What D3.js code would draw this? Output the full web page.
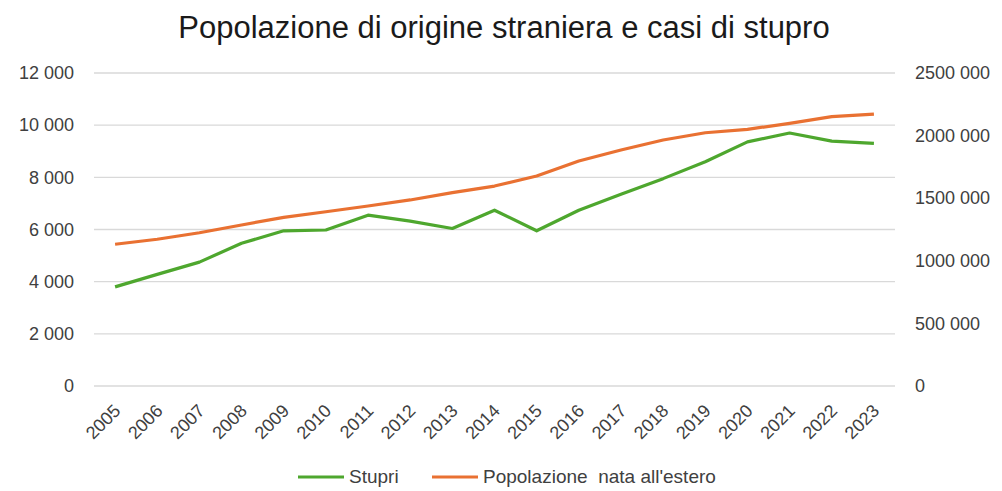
<!DOCTYPE html>
<html><head><meta charset="utf-8">
<script src="https://cdn.jsdelivr.net/npm/d3@7"></script>
<style>body{margin:0;background:#fff}svg{display:block}text{font-family:"Liberation Sans",Arial,sans-serif;fill:#404040}</style>
</head><body><svg id="c" width="1002" height="491"></svg>
<script>
const years = ["2005","2006","2007","2008","2009","2010","2011","2012","2013","2014","2015","2016","2017","2018","2019","2020","2021","2022","2023"];
const stupri = [3800,4280,4750,5470,5950,5980,6550,6320,6040,6740,5950,6740,7350,7950,8600,9360,9700,9390,9300];
const popolazione = [1132000,1172000,1224000,1286000,1347000,1392000,1438000,1486000,1544000,1597000,1677000,1797000,1885000,1965000,2023000,2050000,2098000,2151000,2172000];
const leftTicks = [0,2000,4000,6000,8000,10000,12000];
const rightTicks = [0,500000,1000000,1500000,2000000,2500000];
const title = "Popolazione di origine straniera e casi di stupro";
const seriesNames = ["Stupri","Popolazione  nata all'estero"];
const colors = ["#4ea72e","#e97132"];

const svg = d3.select("#c");
const L = 94, R = 895, T = 73, B = 386;
const x = d3.scalePoint().domain(years).range([L, R]).padding(0.5);
const yL = d3.scaleLinear().domain([0,12000]).range([B, T]);
const yR = d3.scaleLinear().domain([0,2500000]).range([B, T]);
const fmt = v => v >= 1000 ? (Math.floor(v/1000)) + " " + String(v%1000).padStart(3,"0") : String(v);
const FS = "18px";

svg.append("text").attr("x", 504).attr("y", 38).attr("text-anchor","middle")
  .style("font-size","31px").style("fill","#1a1a1a").text(title);

// gridlines
svg.append("g").selectAll("line").data(leftTicks).join("line")
  .attr("x1", L).attr("x2", R).attr("y1", d=>yL(d)).attr("y2", d=>yL(d))
  .attr("stroke", "#d9d9d9").attr("stroke-width", 1.3);

// left axis
const gl = svg.append("g").attr("transform", `translate(${L},0)`)
  .call(d3.axisLeft(yL).tickValues(leftTicks).tickFormat(fmt).tickSize(0).tickPadding(20));
gl.select(".domain").remove();
gl.selectAll("text").style("font-size",FS).style("fill","#404040").style("font-family","Liberation Sans, Arial, sans-serif");

// right axis
const gr = svg.append("g").attr("transform", `translate(${R},0)`)
  .call(d3.axisRight(yR).tickValues(rightTicks).tickFormat(fmt).tickSize(0).tickPadding(20));
gr.select(".domain").remove();
gr.selectAll("text").style("font-size",FS).style("fill","#404040").style("font-family","Liberation Sans, Arial, sans-serif");

// x axis
const gx = svg.append("g").attr("transform", `translate(0,${B})`)
  .call(d3.axisBottom(x).tickSize(0).tickPadding(0));
gx.select(".domain").remove();
gx.selectAll("text").style("font-size",FS).style("fill","#404040").style("font-family","Liberation Sans, Arial, sans-serif")
  .attr("text-anchor","end").attr("dy", null)
  .attr("transform", "translate(6,26) rotate(-45)");

const lineL = d3.line().x((d,i)=>x(years[i])).y(d=>yL(d));
const lineR = d3.line().x((d,i)=>x(years[i])).y(d=>yR(d));
svg.append("path").datum(popolazione).attr("d", lineR).attr("fill","none")
  .attr("stroke", colors[1]).attr("stroke-width", 3.2).attr("stroke-linejoin","round");
svg.append("path").datum(stupri).attr("d", lineL).attr("fill","none")
  .attr("stroke", colors[0]).attr("stroke-width", 3.2).attr("stroke-linejoin","round");

// legend
const leg = [{x:298, name:seriesNames[0], c:colors[0]}, {x:432, name:seriesNames[1], c:colors[1]}];
const lg = svg.append("g");
leg.forEach(d => {
  lg.append("line").attr("x1", d.x).attr("x2", d.x+46).attr("y1", 477).attr("y2", 477)
    .attr("stroke", d.c).attr("stroke-width", 3.2);
  lg.append("text").attr("x", d.x+51).attr("y", 483).style("font-size","19px").style("fill","#404040")
    .style("white-space","pre").text(d.name);
});
</script></body></html>
